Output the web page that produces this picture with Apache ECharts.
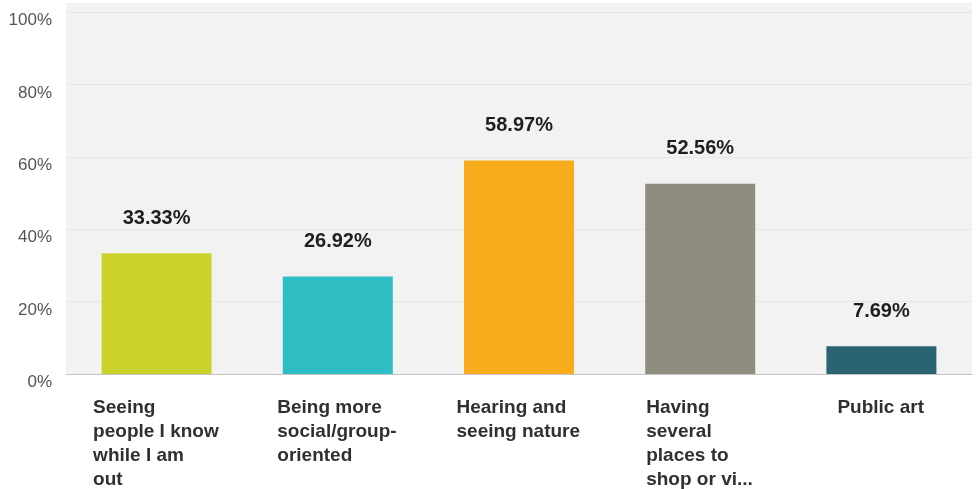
<!DOCTYPE html>
<html>
<head>
<meta charset="utf-8">
<script src="https://cdn.jsdelivr.net/npm/echarts@6/dist/echarts.min.js"></script>
<style>
html,body{margin:0;padding:0;background:#fff;}
#chart{width:976px;height:489px;}
</style>
</head>
<body>
<div id="chart"></div>
<script>
var categories = [
  'Seeing\npeople I know\nwhile I am\nout',
  'Being more\nsocial/group-\noriented',
  'Hearing and\nseeing nature',
  'Having\nseveral\nplaces to\nshop or vi...',
  'Public art'
];
var values = [33.33, 26.92, 58.97, 52.56, 7.69];
var barColors = ['#cbd22c', '#2fbec4', '#f9ac1b', '#8f8d7e', '#2a6473'];
var yTicks = [0, 20, 40, 60, 80, 100];

var FONT = '"Liberation Sans", Arial, sans-serif';
var catFont = 'bold 19px "Liberation Sans", Arial, sans-serif';
var ctx = document.createElement('canvas').getContext('2d');
ctx.font = catFont;

var rich = {};
categories.forEach(function (c, i) {
  var w = 0;
  c.split('\n').forEach(function (l) { w = Math.max(w, ctx.measureText(l).width); });
  rich['c' + i] = {
    width: Math.ceil(w) + 1,
    align: 'left',
    fontSize: 19,
    fontWeight: 'bold',
    fontFamily: FONT,
    color: '#303030',
    lineHeight: 24
  };
});

var chart = echarts.init(document.getElementById('chart'), null, {renderer: 'canvas'});
chart.setOption({
  animation: false,
  backgroundColor: '#ffffff',
  grid: {
    left: 66, right: 4, top: 3, bottom: 115,
    outerBoundsMode: 'none',
    containLabel: false,
    show: true, backgroundColor: '#f2f2f2', borderWidth: 0
  },
  xAxis: {
    type: 'category',
    data: categories,
    axisLine: {show: true, lineStyle: {color: '#c4c4c4', width: 1}},
    axisTick: {show: false},
    axisLabel: {
      interval: 0,
      margin: 22,
      align: 'center',
      verticalAlign: 'top',
      formatter: function (val, idx) {
        return val.split('\n').map(function (l) { return '{c' + idx + '|' + l + '}'; }).join('\n');
      },
      rich: rich
    }
  },
  yAxis: {
    type: 'value',
    min: 0,
    max: 102.5,
    interval: 20,
    axisLine: {show: false},
    axisTick: {show: false},
    splitLine: {show: true, showMaxLine: false, lineStyle: {color: '#e6e6e6', width: 1}},
    axisLabel: {
      margin: 14,
      color: '#555555',
      fontSize: 17,
      lineHeight: 17,
      fontFamily: FONT,
      verticalAlign: 'top',
      showMaxLabel: false,
      formatter: function (v) {
        return yTicks.indexOf(v) >= 0 ? v + '%' : '';
      }
    }
  },
  series: [{
    type: 'bar',
    barWidth: 110,
    data: values.map(function (v, i) {
      return {value: v, itemStyle: {color: barColors[i]}};
    }),
    label: {
      show: true,
      position: 'top',
      distance: 25,
      color: '#1e1e1e',
      fontSize: 20,
      fontWeight: 'bold',
      fontFamily: FONT,
      formatter: function (p) { return p.value.toFixed(2) + '%'; }
    }
  }]
});
</script>
</body>
</html>
